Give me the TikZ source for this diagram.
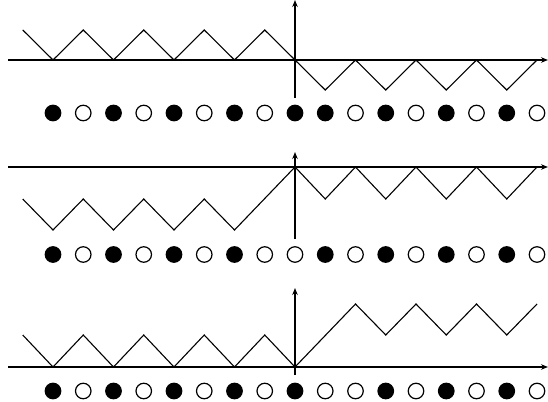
\documentclass[tikz,border=0pt]{standalone}
\usetikzlibrary{arrows.meta}
\begin{document}
\begin{tikzpicture}[x=1pt,y=-1pt,
  axisline/.style={line width=1.2pt,-{Stealth[length=7pt,width=5.5pt]}},
  zig/.style={line width=1.1pt,line join=miter},
  fdot/.style={circle,draw,fill=black,line width=1.2pt,minimum size=15.5pt,inner sep=0pt},
  odot/.style={circle,draw,fill=white,line width=1.2pt,minimum size=15.5pt,inner sep=0pt}]
\useasboundingbox (0,0) rectangle (548,401);
\def\u{30.25}
\def\xo{22.75}
% ---------- panel 1 ----------
\coordinate (h1s) at (8,60);   \coordinate (h1e) at (548,60);
\coordinate (v1s) at (295,98); \coordinate (v1e) at (295,0);
\draw[axisline] (h1s) -- (h1e);
\draw[axisline] (v1s) -- (v1e);
\draw[zig] (\xo,30)
  \foreach \k in {1,...,9}{ -- ({\xo+\k*\u},{ifthenelse(isodd(\k),60,30)}) }
  \foreach \k in {10,...,17}{ -- ({\xo+\k*\u},{ifthenelse(isodd(\k),60,90)}) };
\foreach \s [count=\i from 0] in {1,0,1,0,1,0,1,0,1,1,0,1,0,1,0,1,0}{
  \ifnum\s=1 \node[fdot] (a\i) at ({53+\i*\u},113) {};
  \else \node[odot] (a\i) at ({53+\i*\u},113) {}; \fi }
% ---------- panel 2 ----------
\coordinate (h2s) at (8,167);   \coordinate (h2e) at (548,167);
\coordinate (v2s) at (295,239); \coordinate (v2e) at (295,152);
\draw[axisline] (h2s) -- (h2e);
\draw[axisline] (v2s) -- (v2e);
\draw[zig] (\xo,199)
  \foreach \k in {1,...,7}{ -- ({\xo+\k*\u},{ifthenelse(isodd(\k),230,199)}) }
  \foreach \k in {9,...,17}{ -- ({\xo+\k*\u},{ifthenelse(isodd(\k),167,199)}) };
\foreach \s [count=\i from 0] in {1,0,1,0,1,0,1,0,0,1,0,1,0,1,0,1,0}{
  \ifnum\s=1 \node[fdot] (b\i) at ({53+\i*\u},254.5) {};
  \else \node[odot] (b\i) at ({53+\i*\u},254.5) {}; \fi }
% ---------- panel 3 ----------
\coordinate (h3s) at (8,367);   \coordinate (h3e) at (548,367);
\coordinate (v3s) at (295,375); \coordinate (v3e) at (295,288);
\draw[axisline] (h3s) -- (h3e);
\draw[axisline] (v3s) -- (v3e);
\draw[zig] (\xo,335)
  \foreach \k in {1,...,9}{ -- ({\xo+\k*\u},{ifthenelse(isodd(\k),367,335)}) }
  \foreach \k in {11,...,17}{ -- ({\xo+\k*\u},{ifthenelse(isodd(\k),304,335)}) };
\foreach \s [count=\i from 0] in {1,0,1,0,1,0,1,0,1,0,0,1,0,1,0,1,0}{
  \ifnum\s=1 \node[fdot] (c\i) at ({53+\i*\u},391) {};
  \else \node[odot] (c\i) at ({53+\i*\u},391) {}; \fi }
\end{tikzpicture}
\end{document}
